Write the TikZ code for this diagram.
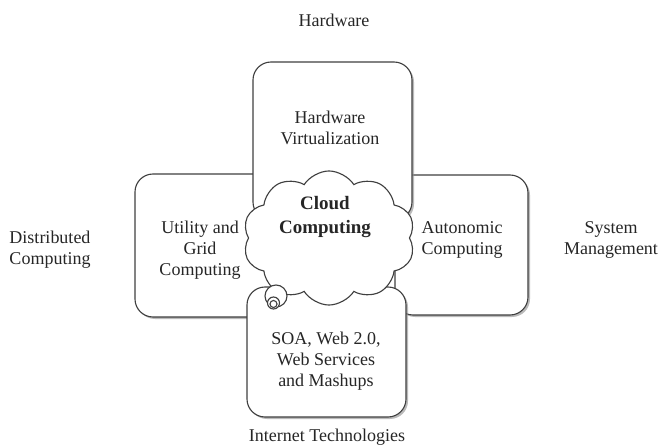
\documentclass[tikz,border=0pt]{standalone}
\usepackage{fontspec}
\setmainfont{Liberation Serif}
\usetikzlibrary{shapes.symbols}
\usetikzlibrary{shadows}
\tikzset{
    box/.style={draw=black!75, fill=white, line width=0.8pt, rounded corners=0.45cm,
        drop shadow={shadow xshift=0.05cm, shadow yshift=-0.05cm, fill=black!45, opacity=0.6}},
    txt/.style={align=center, text=black!85, font=\fontsize{12.8}{15}\selectfont},
    bubble/.style={draw=black!75, fill=white, line width=0.8pt},
}

\begin{document}
\begin{tikzpicture}[x=0.025cm, y=-0.025cm]
	\useasboundingbox (0,0) rectangle (659,446);
	% the four areas round the cloud
	\draw[box] (135,174) rectangle (275,317);
	\draw[box] (395,175) rectangle (528,315);
	\draw[box] (253,62) rectangle (412,220);
	\draw[box] (247,287) rectangle (406,417);
	% cloud
	\node[cloud, cloud puffs=10, cloud puff arc=115, cloud ignores aspect, minimum width=4.3cm, minimum height=3.35cm, bubble] (cloud) at (329,238) {};
	\draw[bubble] (276,296) circle (11);
	\draw[bubble] (273.5,303) circle (6);
	\draw[bubble] (273.5,304) circle (3.5);
	\node[txt, font=\fontsize{13.5}{17}\selectfont\bfseries] (cloudtxt) at (325,217) {Cloud\\Computing};
	% texts in the boxes
	\node[txt] (hwv) at (330,128) {Hardware\\Virtualization};
	\node[txt] (util) at (200,250) {Utility and\\Grid\\Computing};
	\node[txt] (auto) at (462,240) {Autonomic\\Computing};
	\node[txt] (soa) at (326,361) {SOA, Web 2.0,\\Web Services\\and Mashups};
	% outer labels
	\node[txt] (hw) at (334,20) {Hardware};
	\node[txt, align=left] (dist) at (50,250) {Distributed\\Computing};
	\node[txt] (sysm) at (611,240) {System\\Management};
	\node[txt] (net) at (327,437) {Internet Technologies};
\end{tikzpicture}
\end{document}
